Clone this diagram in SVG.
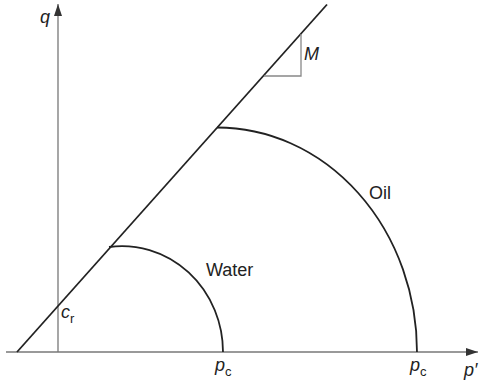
<svg xmlns="http://www.w3.org/2000/svg" width="480" height="387" viewBox="0 0 480 387">
<defs>
<style>
.axis{stroke:#777;stroke-width:1.3;fill:none}
.curve{stroke:#222;stroke-width:1.8;fill:none}
.tri{stroke:#888;stroke-width:1.3;fill:none}
.lbl{font-family:"Liberation Sans",Arial,sans-serif;font-size:18px;fill:#222}
.it{font-style:italic}
.sub{font-size:13px}
</style>
<marker id="arr" viewBox="0 0 12 8" refX="12" refY="4" markerWidth="12" markerHeight="8" markerUnits="userSpaceOnUse" orient="auto">
<path d="M0,0 L12,4 L0,8 Z" fill="#333"/>
</marker>
</defs>
<rect width="480" height="387" fill="#fff"/>
<g id="connectors">
<line class="axis" x1="6" y1="352" x2="478" y2="352" marker-end="url(#arr)"/>
<line class="axis" x1="58" y1="352" x2="58" y2="4" marker-end="url(#arr)"/>
<line class="curve" x1="17" y1="352" x2="327" y2="4.5"/>
<path class="tri" d="M301,34 L301,76 L264,76"/>
</g>
<g id="water">
<path class="curve" d="M109,247 A101,106 0 0 1 223,352"/>
<text class="lbl" x="206" y="276">Water</text>
</g>
<g id="oil">
<path class="curve" d="M217,127.5 A200,224.5 0 0 1 417,352"/>
<text class="lbl" x="369" y="199">Oil</text>
</g>
<g id="labels">
<text class="lbl it" x="40" y="23">q</text>
<text class="lbl it" x="304" y="60">M</text>
<text class="lbl it" x="61" y="318">c<tspan class="sub" font-style="normal" dy="5">r</tspan></text>
<text class="lbl it" x="215" y="371">p<tspan class="sub" font-style="normal" dy="5">c</tspan></text>
<text class="lbl it" x="410" y="371">p<tspan class="sub" font-style="normal" dy="5">c</tspan></text>
<text class="lbl it" x="464" y="376">p′</text>
</g>
</svg>
